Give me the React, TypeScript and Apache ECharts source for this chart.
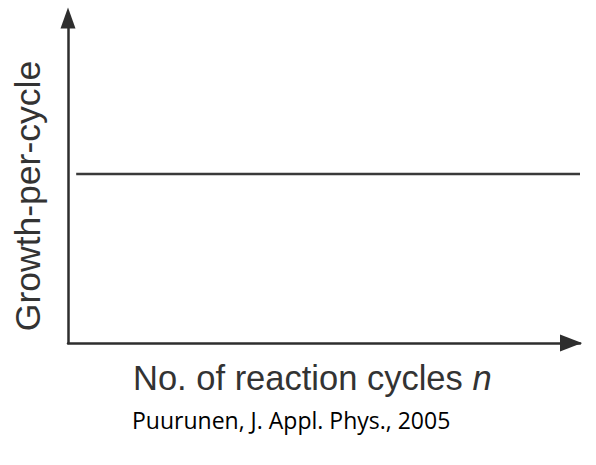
import React, { useEffect, useRef } from "react";
import * as echarts from "echarts";

const nCycles = [1.6, 100];
const growthPerCycle = [52, 52];
const xLabel = "No. of reaction cycles ";
const xLabelVar = "n";
const yLabel = "Growth-per-cycle";
const citation = "Puurunen, J. Appl. Phys., 2005";

export default function App() {
  const ref = useRef<HTMLDivElement>(null);
  useEffect(() => {
    const chart = echarts.init(ref.current!, null, { renderer: "svg" });
    const axisColor = "#2e2e2e";
    chart.setOption({
      animation: false,
      backgroundColor: "#ffffff",
      grid: { left: 68, right: 16, top: 18, bottom: 465 - 343 },
      xAxis: {
        type: "value",
        min: 0,
        max: 100,
        axisLine: {
          show: true,
          symbol: ["none", "triangle"],
          symbolSize: [17, 22],
          symbolOffset: [0, -9],
          lineStyle: { color: axisColor, width: 2.5 },
        },
        axisTick: { show: false },
        axisLabel: { show: false },
        splitLine: { show: false },
      },
      yAxis: {
        type: "value",
        min: 0,
        max: 100,
        axisLine: {
          show: true,
          symbol: ["none", "triangle"],
          symbolSize: [15, 21],
          lineStyle: { color: axisColor, width: 2.5 },
        },
        axisTick: { show: false },
        axisLabel: { show: false },
        splitLine: { show: false },
      },
      series: [
        {
          type: "line",
          data: nCycles.map((x, i) => [x, growthPerCycle[i]]),
          showSymbol: false,
          clip: false,
          lineStyle: { color: "#3a3a3a", width: 2.5 },
        },
      ],
      graphic: [
        {
          type: "text",
          x: 133,
          y: 378,
          style: {
            text: `{a|${xLabel}}{b|${xLabelVar}}`,
            verticalAlign: "middle",
            align: "left",
            rich: {
              a: { fontFamily: "Liberation Sans", fontSize: 34.5, fill: "#333333" },
              b: { fontFamily: "Liberation Sans", fontSize: 34.5, fontStyle: "italic", fill: "#333333" },
            },
          },
        },
        {
          type: "text",
          x: 28,
          y: 196,
          rotation: Math.PI / 2,
          style: {
            text: yLabel,
            fontFamily: "Liberation Sans",
            fontSize: 35.5,
            fill: "#333333",
            align: "center",
            verticalAlign: "middle",
          },
        },
        {
          type: "text",
          x: 132,
          y: 420,
          style: {
            text: citation,
            fontFamily: "Open Sans",
            fontSize: 23,
            fill: "#000000",
            align: "left",
            verticalAlign: "middle",
          },
        },
      ],
    });
    return () => chart.dispose();
  }, []);
  return <div ref={ref} style={{ width: 596, height: 465, position: "absolute", left: 0, top: 0 }} />;
}
